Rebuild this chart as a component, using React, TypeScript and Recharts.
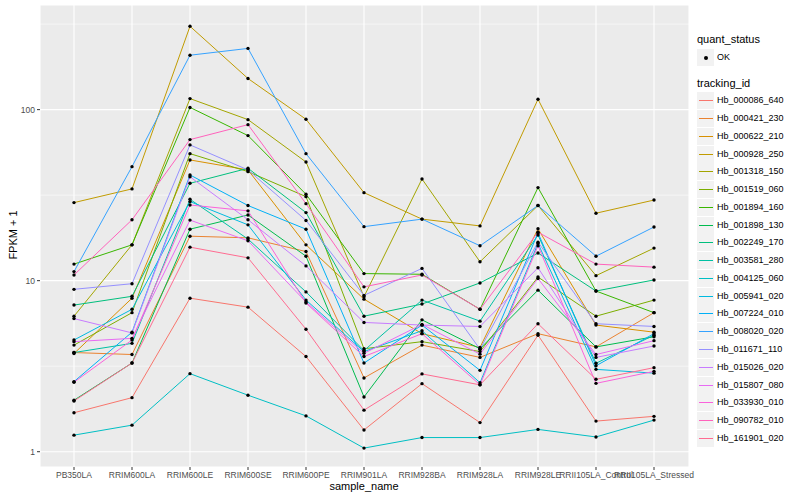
import { LineChart, Line, XAxis, YAxis, CartesianGrid, ReferenceLine } from 'recharts';

const categories = [
    'PB350LA', 'RRIM600LA', 'RRIM600LE', 'RRIM600SE', 'RRIM600PE', 'RRIM901LA',
    'RRIM928BA', 'RRIM928LA', 'RRIM928LE', 'RRII105LA_Control', 'RRII105LA_Stressed',
];

const trackingIds = [
    'Hb_000086_640', 'Hb_000421_230', 'Hb_000622_210', 'Hb_000928_250', 'Hb_001318_150',
    'Hb_001519_060', 'Hb_001894_160', 'Hb_001898_130', 'Hb_002249_170', 'Hb_003581_280',
    'Hb_004125_060', 'Hb_005941_020', 'Hb_007224_010', 'Hb_008020_020', 'Hb_011671_110',
    'Hb_015026_020', 'Hb_015807_080', 'Hb_033930_010', 'Hb_090782_010', 'Hb_161901_020',
];

// ggplot default hue palette, 20 levels
const colors = [
    '#F8766D', '#EA8331', '#D89000', '#C09B00', '#A3A500', '#7CAE00', '#39B600', '#00BB4E', '#00BF7D', '#00C1A3',
    '#00BFC4', '#00BAE0', '#00B0F6', '#35A2FF', '#9590FF', '#C77CFF', '#E76BF3', '#FA62DB', '#FF62BC', '#FF6C91',
];

// FPKM + 1, one row per tracking id, one value per sample
const fpkm = [
    [1.69, 2.07, 7.9, 7.0, 3.6, 1.34, 2.5, 1.48, 4.8, 1.51, 1.61],
    [3.8, 3.7, 18.2, 17.8, 14.8, 2.7, 4.2, 3.56, 4.9, 4.1, 6.5],
    [3.75, 7.9, 50.8, 44.4, 16.2, 7.8, 4.9, 4.07, 20.1, 5.5, 5.0],
    [28.6, 34.4, 307, 152, 87.8, 32.7, 22.9, 20.9, 115, 24.8, 29.6],
    [6.2, 16.2, 116, 87.4, 49.4, 8.06, 39.3, 12.9, 27.5, 10.7, 15.5],
    [4.2, 6.5, 55.3, 43.4, 31.0, 4.0, 4.4, 3.85, 10.5, 6.2, 7.7],
    [12.5, 16.2, 103, 70.5, 32.0, 11.0, 10.9, 6.8, 35.0, 8.7, 6.5],
    [2.0, 3.3, 20.0, 24.2, 13.9, 2.09, 5.9, 4.0, 8.8, 4.1, 4.7],
    [7.2, 8.1, 37.1, 45.4, 25.0, 6.2, 7.3, 9.7, 14.5, 8.7, 10.1],
    [3.8, 4.3, 29.9, 17.5, 8.6, 3.9, 7.7, 5.8, 18.5, 3.29, 4.8],
    [1.25, 1.43, 2.86, 2.14, 1.62, 1.05, 1.21, 1.21, 1.35, 1.22, 1.53],
    [4.5, 6.8, 29.0, 21.2, 7.7, 3.85, 5.1, 2.53, 16.5, 3.03, 2.88],
    [2.57, 5.0, 41.5, 27.5, 20.0, 3.3, 5.5, 2.99, 19.0, 3.18, 4.9],
    [11.3, 46.4, 208, 228, 55.3, 20.7, 22.9, 16.0, 27.5, 13.9, 20.6],
    [8.9, 9.6, 62.2, 44.4, 22.5, 8.2, 11.8, 3.97, 16.8, 5.6, 5.4],
    [6.0, 4.95, 40.5, 22.7, 12.2, 5.7, 5.5, 5.4, 11.9, 3.56, 4.15],
    [4.4, 4.6, 22.6, 17.1, 7.5, 3.76, 5.55, 3.72, 10.3, 3.7, 4.46],
    [2.55, 4.5, 27.7, 25.6, 7.4, 3.6, 4.9, 2.46, 16.0, 2.51, 2.95],
    [10.8, 22.7, 66.8, 81.7, 28.2, 9.2, 10.8, 6.8, 19.2, 12.5, 12.0],
    [1.98, 3.3, 15.7, 13.6, 5.2, 1.75, 2.85, 2.46, 5.6, 2.65, 3.1],
];

const yTicks = [1, 10, 100];
const yMinor = [Math.sqrt(10), Math.sqrt(1000), Math.sqrt(100000)];

const data = categories.map((name, ci) => {
    const row: Record<string, string | number> = { sample_name: name };
    trackingIds.forEach((id, si) => {
        row[id] = fpkm[si][ci];
    });
    return row;
});

const FONT = '"Liberation Sans", Arial, Helvetica, sans-serif';

export default function App() {
    return (
        <div style={{ position: 'absolute', left: 0, top: 0, width: 800, height: 500, background: '#fff', fontFamily: FONT }}>
            <LineChart width={800} height={500} data={data} margin={{ top: 5, right: 111, bottom: 0, left: 0 }}>
                <CartesianGrid fill="#EBEBEB" stroke="#FFFFFF" strokeWidth={1.1} />
                {yMinor.map((v) => (
                    <ReferenceLine key={v} y={v} stroke="#FFFFFF" strokeWidth={0.55} ifOverflow="hidden" />
                ))}
                <XAxis
                    dataKey="sample_name"
                    height={33}
                    padding={{ left: 34, right: 35 }}
                    interval={0}
                    axisLine={false}
                    tickSize={3}
                    tickMargin={2}
                    tickLine={{ stroke: '#333333' }}
                    tick={{ fill: '#4D4D4D', fontSize: 8.5, fontFamily: FONT }}
                />
                <YAxis
                    type="number"
                    scale="log"
                    domain={[0.814, 409]}
                    allowDataOverflow
                    ticks={yTicks}
                    width={40}
                    axisLine={false}
                    tickSize={3}
                    tickMargin={2}
                    tickLine={{ stroke: '#333333' }}
                    tick={{ fill: '#4D4D4D', fontSize: 8.5, fontFamily: FONT }}
                />
                {trackingIds.map((id, i) => (
                    <Line
                        key={id}
                        dataKey={id}
                        stroke={colors[i]}
                        strokeWidth={1}
                        dot={false}
                        isAnimationActive={false}
                    />
                ))}
                {trackingIds.map((id) => (
                    <Line
                        key={`pt-${id}`}
                        dataKey={id}
                        stroke="none"
                        strokeWidth={0}
                        dot={{ r: 1.7, fill: '#000', stroke: 'none' }}
                        activeDot={false}
                        legendType="none"
                        isAnimationActive={false}
                    />
                ))}
            </LineChart>

            {/* axis titles */}
            <div style={{ position: 'absolute', left: 314, top: 480, width: 100, textAlign: 'center', fontSize: 11 }}>
                sample_name
            </div>
            <div
                style={{
                    position: 'absolute', left: -37, top: 229, width: 100, textAlign: 'center', fontSize: 11,
                    transform: 'rotate(-90deg)',
                }}
            >
                FPKM + 1
            </div>

            {/* legends */}
            <div style={{ position: 'absolute', left: 697, top: 33, fontSize: 11 }}>quant_status</div>
            <div style={{ position: 'absolute', left: 697, top: 49, width: 17, height: 17, background: '#F2F2F2' }}>
                <div style={{ position: 'absolute', left: 6.5, top: 6.5, width: 4, height: 4, borderRadius: 2, background: '#000' }} />
            </div>
            <div style={{ position: 'absolute', left: 717, top: 52, fontSize: 9 }}>OK</div>

            <div style={{ position: 'absolute', left: 697, top: 77, fontSize: 11 }}>tracking_id</div>
            {trackingIds.map((id, i) => {
                const cy = 100.7 + i * 17.77;
                return (
                    <div key={id}>
                        <div style={{ position: 'absolute', left: 697, top: cy - 8.5, width: 17, height: 17, background: '#F2F2F2' }}>
                            <div style={{ position: 'absolute', left: 1.5, top: 8, width: 14, height: 1, background: colors[i] }} />
                        </div>
                        <div style={{ position: 'absolute', left: 717, top: cy - 5.5, fontSize: 9, lineHeight: '11px' }}>{id}</div>
                    </div>
                );
            })}
        </div>
    );
}
